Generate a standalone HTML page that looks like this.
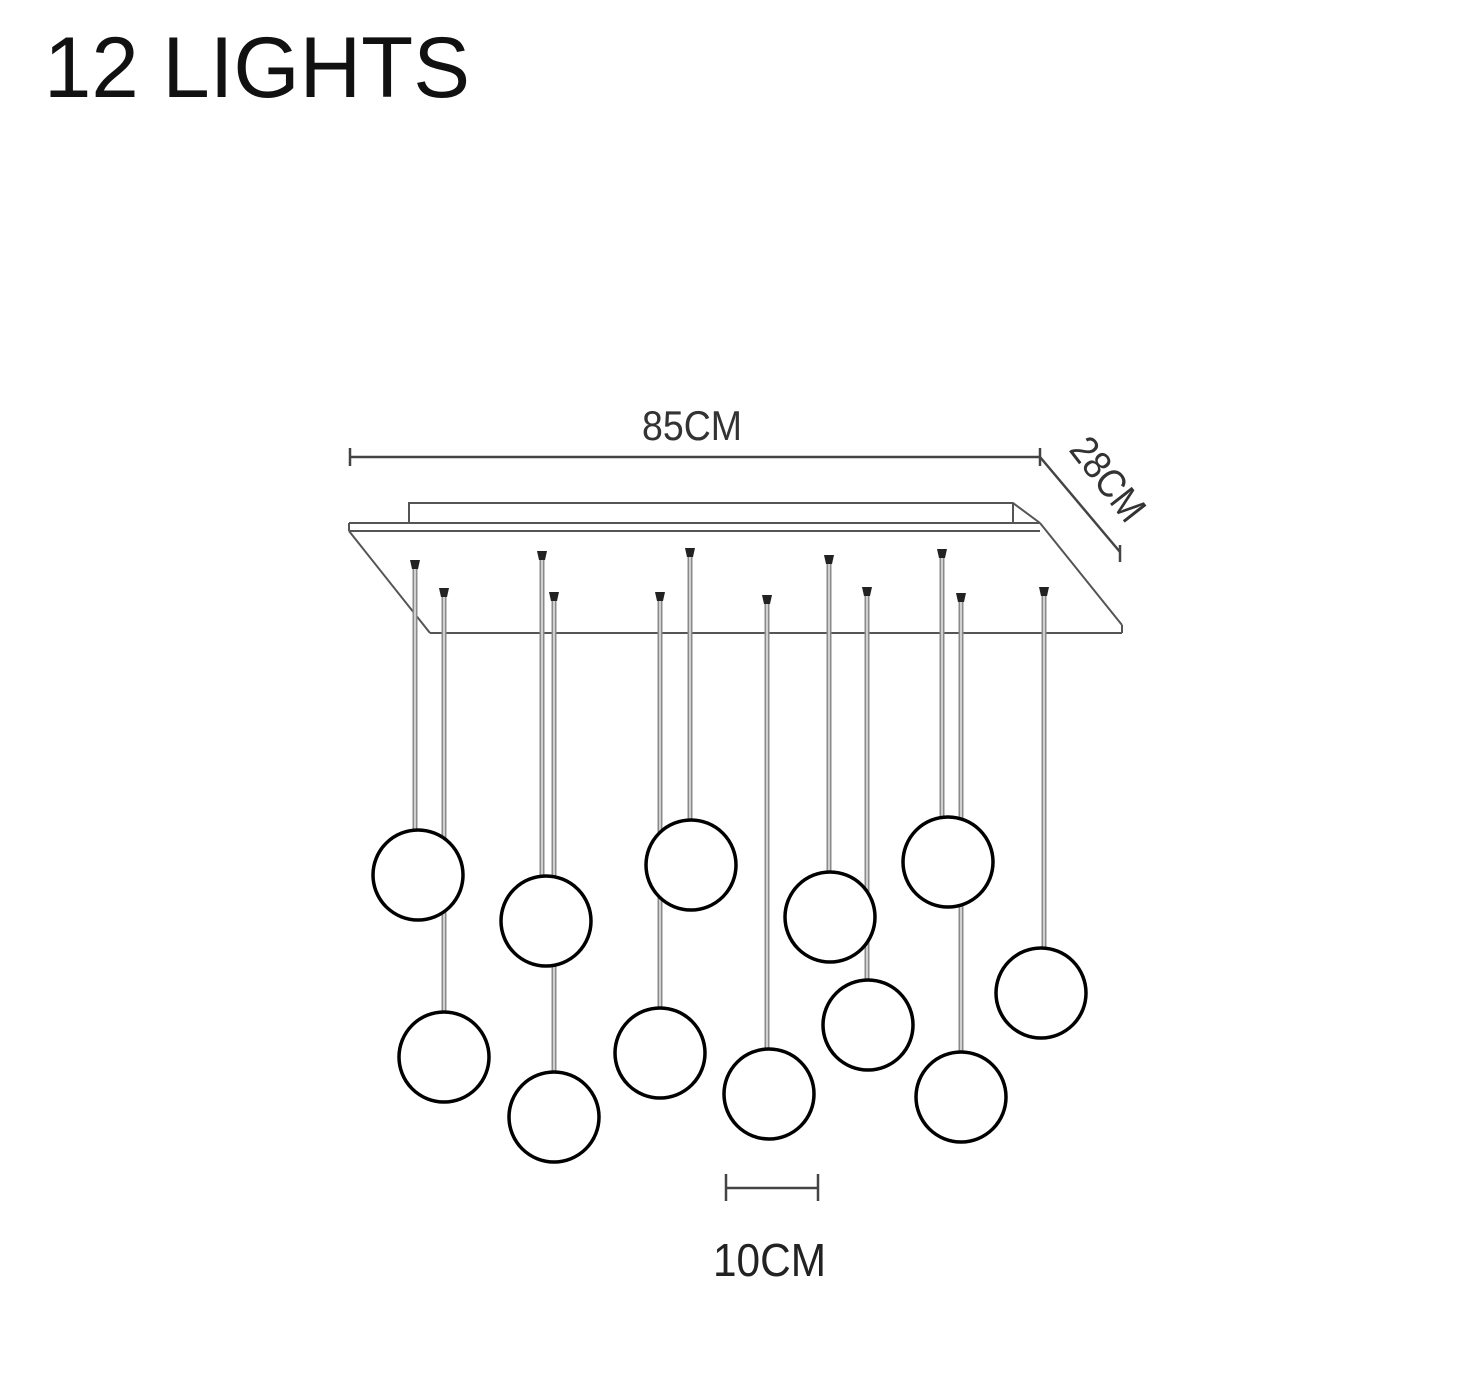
<!DOCTYPE html>
<html><head><meta charset="utf-8"><style>
html,body{margin:0;padding:0;background:#fff;}
svg{display:block;}
</style></head><body>
<svg width="1458" height="1392" viewBox="0 0 1458 1392" xmlns="http://www.w3.org/2000/svg" font-family="Liberation Sans, sans-serif">
<rect width="1458" height="1392" fill="#fff"/>
<text x="44" y="97" font-size="86" fill="#111" textLength="426" lengthAdjust="spacingAndGlyphs">12 LIGHTS</text>

<!-- dimensions -->
<g stroke="#444" stroke-width="2.5" fill="none">
<line x1="350" y1="457" x2="1040" y2="457"/>
<line x1="350" y1="448" x2="350" y2="466"/>
<line x1="1040" y1="448" x2="1040" y2="466"/>
<line x1="1040" y1="457" x2="1120" y2="552"/>
<line x1="1120" y1="545" x2="1120" y2="562"/>
</g>
<text x="642" y="440" font-size="42" fill="#333" textLength="100" lengthAdjust="spacingAndGlyphs">85CM</text>
<text transform="translate(1068,450) rotate(52)" font-size="40" fill="#333" textLength="95" lengthAdjust="spacingAndGlyphs">28CM</text>

<!-- canopy -->
<g stroke="#555" stroke-width="2" fill="none">
<polyline points="409,522 409,503 1013,503 1040,523"/>
<line x1="1013" y1="503" x2="1013" y2="523"/>
<line x1="349" y1="523" x2="1040" y2="523"/>
<line x1="349" y1="531" x2="1040" y2="531"/>
<line x1="349" y1="523" x2="349" y2="531"/>
<line x1="349" y1="531" x2="430" y2="633"/>
<line x1="430" y1="633" x2="1122" y2="633"/>
<line x1="1040" y1="523" x2="1122" y2="625"/>
<line x1="1122" y1="625" x2="1122" y2="633"/>
</g>

<!-- ropes -->
<g stroke="#8a8a8a" stroke-width="5">
<line x1="415" y1="568" x2="415" y2="830"/>
<line x1="444" y1="597" x2="444" y2="1012"/>
<line x1="542" y1="558" x2="542" y2="876"/>
<line x1="554" y1="600" x2="554" y2="1072"/>
<line x1="690" y1="555" x2="690" y2="820"/>
<line x1="660" y1="600" x2="660" y2="1008"/>
<line x1="767" y1="603" x2="767" y2="1049"/>
<line x1="829" y1="563" x2="829" y2="872"/>
<line x1="867" y1="595" x2="867" y2="980"/>
<line x1="942" y1="557" x2="942" y2="817"/>
<line x1="961" y1="601" x2="961" y2="1052"/>
<line x1="1044" y1="595" x2="1044" y2="948"/>
</g>
<g stroke="#fff" stroke-width="1.2">
<line x1="415" y1="568" x2="415" y2="830"/>
<line x1="444" y1="597" x2="444" y2="1012"/>
<line x1="542" y1="558" x2="542" y2="876"/>
<line x1="554" y1="600" x2="554" y2="1072"/>
<line x1="690" y1="555" x2="690" y2="820"/>
<line x1="660" y1="600" x2="660" y2="1008"/>
<line x1="767" y1="603" x2="767" y2="1049"/>
<line x1="829" y1="563" x2="829" y2="872"/>
<line x1="867" y1="595" x2="867" y2="980"/>
<line x1="942" y1="557" x2="942" y2="817"/>
<line x1="961" y1="601" x2="961" y2="1052"/>
<line x1="1044" y1="595" x2="1044" y2="948"/>
</g>
<!-- caps -->
<g fill="#222">
<path d="M410,560 h10 l-2,9 h-6 z"/>
<path d="M439,588 h10 l-2,9 h-6 z"/>
<path d="M537,551 h10 l-2,9 h-6 z"/>
<path d="M549,592 h10 l-2,9 h-6 z"/>
<path d="M685,548 h10 l-2,9 h-6 z"/>
<path d="M655,592 h10 l-2,9 h-6 z"/>
<path d="M762,595 h10 l-2,9 h-6 z"/>
<path d="M824,555 h10 l-2,9 h-6 z"/>
<path d="M862,587 h10 l-2,9 h-6 z"/>
<path d="M937,549 h10 l-2,9 h-6 z"/>
<path d="M956,593 h10 l-2,9 h-6 z"/>
<path d="M1039,587 h10 l-2,9 h-6 z"/>
</g>

<!-- globes -->
<g fill="#fff" stroke="#000" stroke-width="3.5">
<circle cx="418" cy="875" r="45"/>
<circle cx="444" cy="1057" r="45"/>
<circle cx="546" cy="921" r="45"/>
<circle cx="554" cy="1117" r="45"/>
<circle cx="691" cy="865" r="45"/>
<circle cx="660" cy="1053" r="45"/>
<circle cx="769" cy="1094" r="45"/>
<circle cx="830" cy="917" r="45"/>
<circle cx="868" cy="1025" r="45"/>
<circle cx="948" cy="862" r="45"/>
<circle cx="961" cy="1097" r="45"/>
<circle cx="1041" cy="993" r="45"/>
</g>

<!-- 10cm -->
<g stroke="#444" stroke-width="2.5">
<line x1="726" y1="1188" x2="818" y2="1188"/>
<line x1="726" y1="1174" x2="726" y2="1201"/>
<line x1="818" y1="1174" x2="818" y2="1201"/>
</g>
<text x="713" y="1276" font-size="46" fill="#222" textLength="113" lengthAdjust="spacingAndGlyphs">10CM</text>
</svg>
</body></html>
